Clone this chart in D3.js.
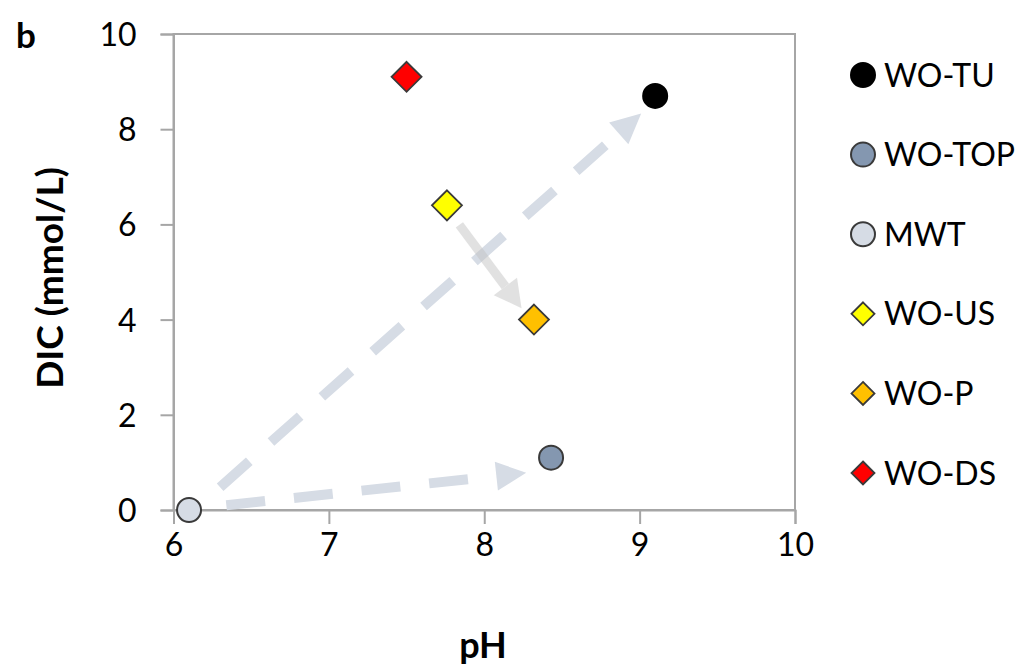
<!DOCTYPE html>
<html><head><meta charset="utf-8">
<script src="https://cdn.jsdelivr.net/npm/d3@7"></script>
<style>body{margin:0;background:#fff;} svg{display:block;font-family:Lato,"Open Sans",sans-serif;}</style>
</head><body>
<svg id="chart" width="1027" height="668"></svg>
<script>
// ---- data ----
const seriesNames = ["WO-TU","WO-TOP","MWT","WO-US","WO-P","WO-DS"];
const seriesShapes = ["circle","circle","circle","diamond","diamond","diamond"];
const seriesColors = ["#000000","#8497b0","#d6dce5","#ffff00","#ffc000","#ff0000"];
const pHValues = [9.1, 8.43, 6.1, 7.76, 8.32, 7.5];
const dicValues = [8.7, 1.1, 0.0, 6.4, 4.0, 9.1];
const xTicks = [6,7,8,9,10];
const yTicks = [0,2,4,6,8,10];
// arrows: [x1,y1,x2,y2] in data units (pH, DIC)
const dashedArrows = [[6.30,0.48,9.01,8.33],[6.34,0.10,8.27,0.78]];
const solidArrows = [[7.84,5.99,8.24,4.24]];

const svg = d3.select("#chart");
const L=173.5, T=34, R=795, B=510;
const x = d3.scaleLinear().domain([6,10]).range([L,R]);
const y = d3.scaleLinear().domain([0,10]).range([B,T]);
const axisColor="#a6a6a6";

// frame
svg.append("rect").attr("x",L).attr("y",T).attr("width",R-L).attr("height",B-T)
  .attr("fill","none").attr("stroke",axisColor).attr("stroke-width",2);

// axes
const gx = svg.append("g").attr("transform",`translate(0,${B})`)
  .call(d3.axisBottom(x).tickValues(xTicks).tickSize(14).tickPadding(24).tickFormat(d3.format("d")));
const gy = svg.append("g").attr("transform",`translate(${L},0)`)
  .call(d3.axisLeft(y).tickValues(yTicks).tickSize(13).tickPadding(24).tickFormat(d3.format("d")));
[gx,gy].forEach(g=>{
  g.select(".domain").attr("stroke",axisColor).attr("stroke-width",2);
  g.selectAll(".tick line").attr("stroke",axisColor).attr("stroke-width",2);
  g.selectAll("text").attr("fill","#000").style("font-size","32px").style("font-family","Lato,'Open Sans',sans-serif");
});
gx.selectAll("text").attr("dy","0.25em");
gy.selectAll("text").attr("dy","0.36em");

// arrows
function arrow(a, color, width, headLen, headW, dashed, opacity){
  const x1=x(a[0]), y1=y(a[1]), x2=x(a[2]), y2=y(a[3]);
  const dx=x2-x1, dy=y2-y1, len=Math.hypot(dx,dy), ux=dx/len, uy=dy/len;
  const bx=x2-ux*headLen, by=y2-uy*headLen;
  const g=svg.append("g").attr("opacity",opacity);
  g.append("line").attr("x1",x1).attr("y1",y1).attr("x2",bx).attr("y2",by)
    .attr("stroke",color).attr("stroke-width",width)
    .attr("stroke-dasharray",dashed?"39,29":null);
  g.append("path").attr("d",`M${x2},${y2}L${bx-uy*headW/2},${by+ux*headW/2}L${bx+uy*headW/2},${by-ux*headW/2}Z`)
    .attr("fill",color);
}
dashedArrows.forEach(a=>arrow(a,"#d6dce5",10,30,29,true,1));
solidArrows.forEach(a=>arrow(a,"#c4c4c4",9,27,29,false,0.5));

// markers
function marker(g, shape, cx, cy, size, fill){
  if(shape==="circle"){
    g.append("circle").attr("cx",cx).attr("cy",cy).attr("r",size)
      .attr("fill",fill).attr("stroke",fill==="#000000"?"#000":"#3a3a3a").attr("stroke-width",2);
  } else {
    g.append("path").attr("d",`M${cx},${cy-size}L${cx+size},${cy}L${cx},${cy+size}L${cx-size},${cy}Z`)
      .attr("fill",fill).attr("stroke","#3a3a3a").attr("stroke-width",1.8);
  }
}
const pts = svg.append("g");
seriesNames.forEach((n,i)=>{
  marker(pts, seriesShapes[i], x(pHValues[i]), y(dicValues[i]), seriesShapes[i]==="circle"?12:15, seriesColors[i]);
});

// legend
const lg = svg.append("g");
seriesNames.forEach((n,i)=>{
  const ly = 75 + i*79.6;
  marker(lg, seriesShapes[i], 863, ly, seriesShapes[i]==="circle"?12:11.5, seriesColors[i]);
  lg.append("text").attr("x",884).attr("y",ly).attr("dy","0.36em")
    .style("font-size","32px").attr("fill","#000").text(n);
});

// titles
svg.append("text").attr("x",483).attr("y",645).attr("dy","0.36em").attr("text-anchor","middle")
  .style("font-size","36px").style("font-weight","bold").text("pH");
svg.append("text").attr("transform","translate(50,278) rotate(-90)").attr("dy","0.36em").attr("text-anchor","middle")
  .style("font-size","37px").style("font-weight","bold").text("DIC (mmol/L)");
svg.append("text").attr("x",16).attr("y",48)
  .style("font-size","35px").style("font-weight","bold").text("b");
</script>
</body></html>
